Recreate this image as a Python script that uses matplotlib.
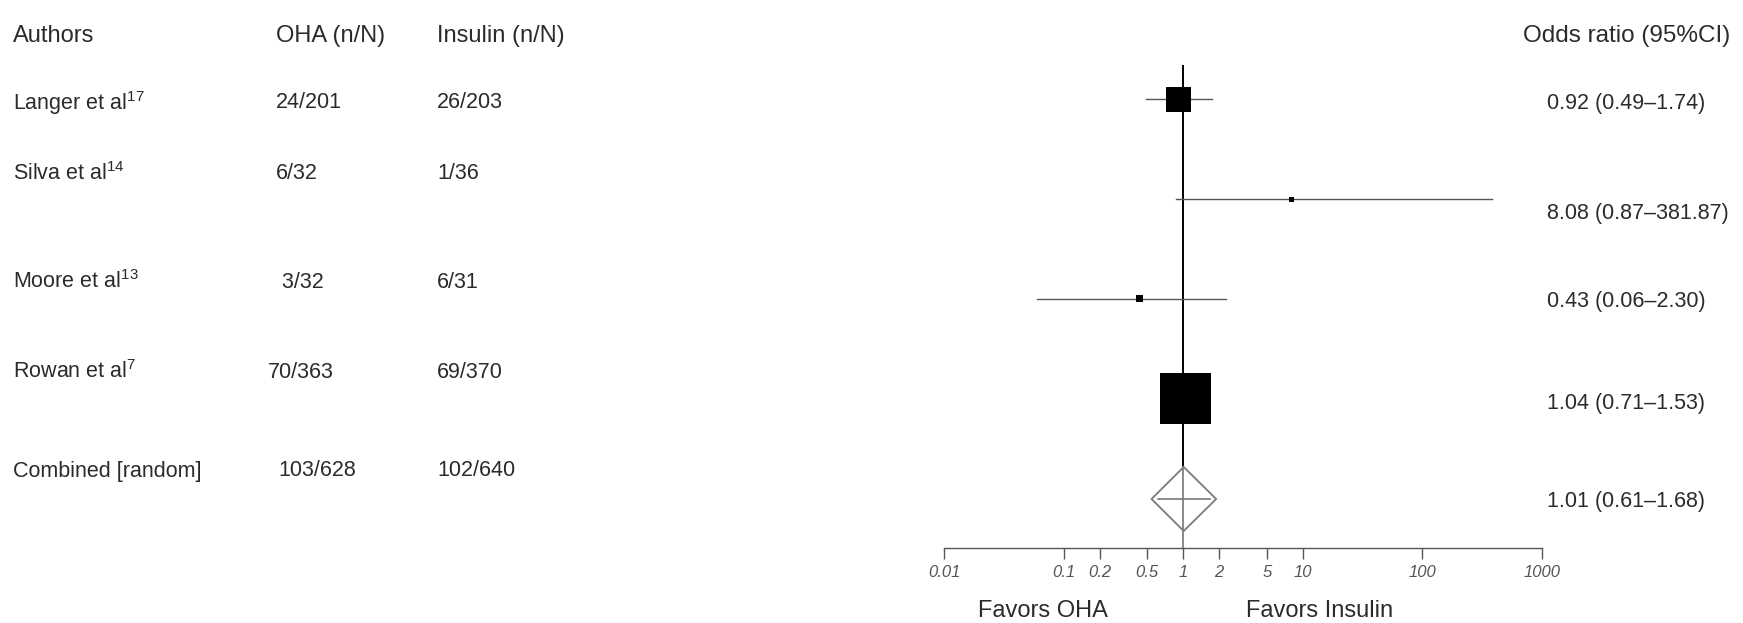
import matplotlib
matplotlib.use("Agg")
import matplotlib.pyplot as plt
from matplotlib.patches import Polygon

plt.rcParams['font.family'] = ['Liberation Sans', 'DejaVu Sans']
plt.rcParams['mathtext.fontset'] = 'custom'
plt.rcParams['mathtext.rm'] = 'Liberation Sans'
plt.rcParams['mathtext.it'] = 'Liberation Sans:italic'

# ---- data ----
authors = ["Langer et al", "Silva et al", "Moore et al", "Rowan et al", "Combined [random]"]
refs = ["17", "14", "13", "7", None]
oha = ["24/201", "6/32", " 3/32", "70/363", "103/628"]
insulin = ["26/203", "1/36", "6/31", "69/370", "102/640"]
odds = [0.92, 8.08, 0.43, 1.04, 1.01]
ci_low = [0.49, 0.87, 0.06, 0.71, 0.61]
ci_high = [1.74, 381.87, 2.30, 1.53, 1.68]
tick_values = [0.01, 0.1, 0.2, 0.5, 1, 2, 5, 10, 100, 1000]
tick_labels = ["0.01", "0.1", "0.2", "0.5", "1", "2", "5", "10", "100", "1000"]

# ---- layout / style ----
W, H = 1743, 623
DPI = 100
box_side = [25, 5, 7, 51, None]          # square side in px (study weight)
row_px = [99, 199, 299, 399, 499]        # mark rows (px from top)
left_row_px = [103, 174, 282, 372, 471]  # text rows, left block
or_row_px = [103, 213, 302, 404, 501]    # text rows, odds-ratio column
oha_x = [276, 276, 276, 268, 278]
ins_x = 437
or_x = 1547
TXT = '#2b2b2b'
FS = 15.5
FS_HEAD = 17

fig = plt.figure(figsize=(W / DPI, H / DPI), dpi=DPI)

def fx(px):
    return px / W

def fy(py):
    return 1 - py / H

# forest axes: 0.01 .. 1000 spans px 944 .. 1542, rows mapped via ylim
x0, x1 = 944, 1542
y_top, y_bot = 65, 548
ax = fig.add_axes([fx(x0), fy(y_bot), fx(x1 - x0), (y_bot - y_top) / H])
ax.set_xscale('log')
ax.set_xlim(0.01, 1000)
n = len(odds)
step = 100.0
ax.set_ylim(n + (y_bot - row_px[-1]) / step, 1 - (row_px[0] - y_top) / step)
for s in ['top', 'right', 'left']:
    ax.spines[s].set_visible(False)
ax.spines['bottom'].set_color('#555555')
ax.spines['bottom'].set_linewidth(1.0)
ax.set_yticks([])
ax.set_xticks(tick_values)
ax.set_xticklabels(tick_labels, fontstyle='italic', fontsize=12, color='#555555')
ax.xaxis.set_minor_locator(matplotlib.ticker.NullLocator())
ax.tick_params(axis='x', direction='out', length=8, width=1.0, color='#555555', pad=4)

# reference line at OR = 1
diam_h = 0.32
ax.plot([1, 1], [ax.get_ylim()[1], n - diam_h], color='black', lw=1.4, zorder=1)
ax.plot([1, 1], [n - diam_h, ax.get_ylim()[0]], color='#777777', lw=1.2, zorder=1)

pt_per_px = 72.0 / DPI
for i in range(n - 1):
    y = i + 1
    ax.plot([ci_low[i], ci_high[i]], [y, y], color='#555555', lw=1.0, zorder=2)
    side_pt = box_side[i] * pt_per_px
    ax.scatter([odds[i]], [y], marker='s', s=side_pt ** 2, color='black',
               edgecolors='none', zorder=3)

# pooled estimate diamond, outline padded a few px beyond the interval
pad = 10 ** (6 / 119.6)
yc = n
dia = Polygon([[ci_low[-1] / pad, yc], [odds[-1], yc - diam_h], [ci_high[-1] * pad, yc],
               [odds[-1], yc + diam_h]], closed=True, fill=False,
              edgecolor='#7a7a7a', lw=1.3, zorder=3)
ax.add_patch(dia)
ax.plot([ci_low[-1], ci_high[-1]], [yc, yc], color='#7a7a7a', lw=1.2, zorder=3)

# column headers
fig.text(fx(13), fy(36), "Authors", fontsize=FS_HEAD, color=TXT, va='center')
fig.text(fx(276), fy(36), "OHA (n/N)", fontsize=FS_HEAD, color=TXT, va='center')
fig.text(fx(ins_x), fy(36), "Insulin (n/N)", fontsize=FS_HEAD, color=TXT, va='center')
fig.text(fx(1730), fy(36), "Odds ratio (95%CI)", fontsize=17.5, color=TXT,
         va='center', ha='right')

for i in range(n):
    name = authors[i] if refs[i] is None else authors[i] + r"$^{\mathrm{" + refs[i] + "}}$"
    yy = fy(left_row_px[i])
    fig.text(fx(13), yy, name, fontsize=FS, color=TXT, va='center')
    fig.text(fx(oha_x[i]), yy, oha[i], fontsize=FS, color=TXT, va='center')
    fig.text(fx(ins_x), yy, insulin[i], fontsize=FS, color=TXT, va='center')
    label = f"{odds[i]:.2f} ({ci_low[i]:.2f}\u2013{ci_high[i]:.2f})"
    fig.text(fx(or_x), fy(or_row_px[i]), label, fontsize=FS, color=TXT, va='center')

fig.text(fx(1043), fy(611), "Favors OHA", fontsize=17, color=TXT, ha='center', va='center')
fig.text(fx(1320), fy(611), "Favors Insulin", fontsize=17, color=TXT, ha='center', va='center')

fig.savefig("out.png", dpi=DPI, facecolor='white')
